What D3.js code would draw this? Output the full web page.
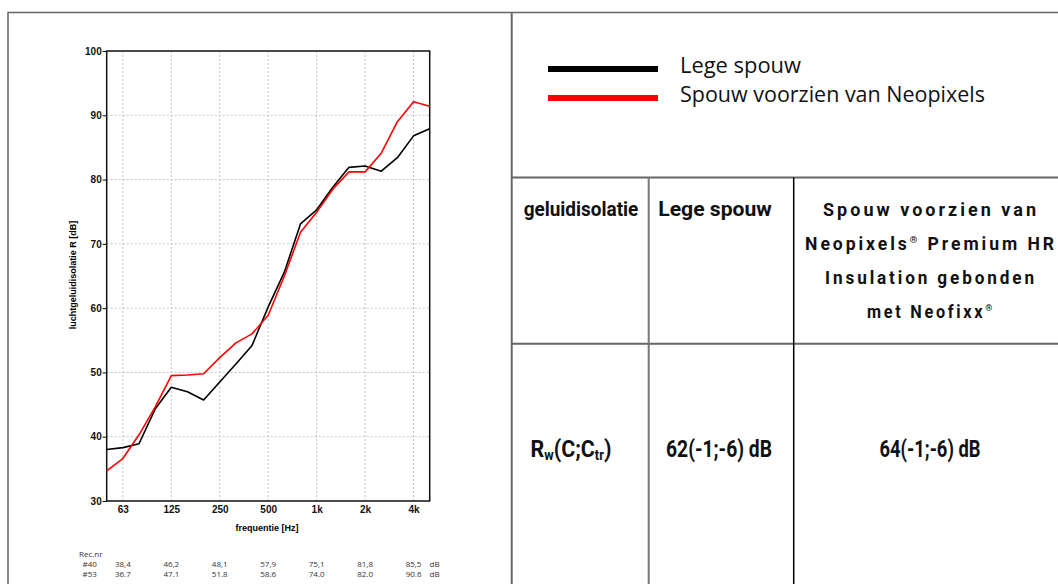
<!DOCTYPE html>
<html>
<head>
<meta charset="utf-8">
<script src="https://cdnjs.cloudflare.com/ajax/libs/d3/7.8.5/d3.min.js"></script>
<style>
  body { margin: 0; background: #fff; }
  svg { display: block; }
  .tick text { font-family: "Liberation Sans", Arial, sans-serif; font-weight: bold; font-size: 10px; fill: #111; }
  .cond { font-family: Roboto, "Liberation Sans", sans-serif; font-weight: bold; fill: #111; }
</style>
</head>
<body>
<svg id="chart" width="1058" height="584"></svg>
<script>
// third-octave bands, Hz
var bands = [50, 63, 80, 100, 125, 160, 200, 250, 315, 400, 500, 630, 800, 1000, 1250, 1600, 2000, 2500, 3150, 4000, 5000];
// R [dB]
var legeSpouw = [38.0, 38.3, 38.9, 44.3, 47.7, 47.0, 45.7, 48.5, 51.3, 54.2, 60.2, 65.6, 73.1, 75.3, 78.8, 81.9, 82.1, 81.3, 83.4, 86.8, 87.9];
var neopixels = [34.7, 36.6, 40.3, 44.6, 49.5, 49.6, 49.8, 52.3, 54.6, 56.0, 58.9, 65.0, 71.8, 74.9, 78.5, 81.2, 81.2, 84.1, 89.0, 92.1, 91.4];

var tickBands = [63, 125, 250, 500, 1000, 2000, 4000];
var tickLabels = ["63", "125", "250", "500", "1k", "2k", "4k"];
var yTicks = [30, 40, 50, 60, 70, 80, 90, 100];

var recIds = ["#40", "#53"];
var rec40 = ["38,4", "46,2", "48,1", "57,9", "75,1", "81,8", "85,5"];
var rec53 = ["36.7", "47.1", "51.8", "58.6", "74.0", "82.0", "90.6"];

var seriesNames = ["Lege spouw", "Spouw voorzien van Neopixels"];
var seriesColors = ["#000", "#ff0000"];

var headCol1 = "geluidisolatie";
var headCol2 = "Lege spouw";
var headCol3 = ["Spouw voorzien van", "Neopixels|® Premium HR", "Insulation gebonden", "met Neofixx|®"];
var rwCol2 = "62(-1;-6) dB";
var rwCol3 = "64(-1;-6) dB";

var svg = d3.select("#chart");

// frame + table lines
var frame = svg.append("g").attr("fill", "none");
frame.append("path").attr("d", "M8,584V12.5H1058").attr("stroke", "#666").attr("stroke-width", 1.5);
frame.append("path").attr("d", "M511.7,12.5V584").attr("stroke", "#666").attr("stroke-width", 2);
frame.append("path").attr("d", "M511.7,177.5H1058M511.7,343.7H1058").attr("stroke", "#666").attr("stroke-width", 2);
frame.append("path").attr("d", "M648.7,177.5V584").attr("stroke", "#777").attr("stroke-width", 2);
frame.append("path").attr("d", "M793.7,177.5V584").attr("stroke", "#000").attr("stroke-width", 1.5);

// chart
var x = d3.scalePoint().domain(bands).range([106.7, 429.7]);
var y = d3.scaleLinear().domain([30, 100]).range([501, 51]);

var grid = svg.append("g")
  .attr("stroke", "#c4c4c4")
  .attr("stroke-dasharray", "2,2")
  .attr("stroke-width", 1);
grid.selectAll("line.v")
  .data(tickBands)
  .enter()
  .append("line")
  .attr("x1", function(d) { return x(d); })
  .attr("x2", function(d) { return x(d); })
  .attr("y1", y(100))
  .attr("y2", y(30));
grid.selectAll("line.h")
  .data(yTicks.slice(1, -1))
  .enter()
  .append("line")
  .attr("x1", x(50))
  .attr("x2", x(5000))
  .attr("y1", function(d) { return y(d); })
  .attr("y2", function(d) { return y(d); });

var yAxis = svg.append("g")
  .attr("transform", "translate(" + x(50) + ",0)")
  .call(d3.axisLeft(y).tickValues(yTicks).tickSize(4).tickPadding(1));
yAxis.select(".domain").remove();

var xAxis = svg.append("g")
  .attr("transform", "translate(0," + y(30) + ")")
  .call(d3.axisBottom(x).tickValues(tickBands).tickSize(0).tickPadding(5)
    .tickFormat(function(d, i) { return tickLabels[i]; }));
xAxis.select(".domain").remove();

svg.append("rect")
  .attr("x", x(50))
  .attr("y", y(100))
  .attr("width", x(5000) - x(50))
  .attr("height", y(30) - y(100))
  .attr("fill", "none")
  .attr("stroke", "#111")
  .attr("stroke-width", 1.5);

var line = d3.line()
  .x(function(d, i) { return x(bands[i]); })
  .y(function(d) { return y(d); });

[legeSpouw, neopixels].forEach(function(s, i) {
  svg.append("path")
    .datum(s)
    .attr("d", line)
    .attr("fill", "none")
    .attr("stroke", seriesColors[i])
    .attr("stroke-width", 1.6)
    .attr("stroke-linejoin", "round");
});

svg.append("text")
  .attr("transform", "translate(76,275) rotate(-90)")
  .attr("text-anchor", "middle")
  .style("font", "bold 9px 'Liberation Sans', Arial, sans-serif")
  .text("luchtgeluidisolatie R [dB]");

svg.append("text")
  .attr("x", 267)
  .attr("y", 531)
  .attr("text-anchor", "middle")
  .style("font", "bold 9px 'Liberation Sans', Arial, sans-serif")
  .text("frequentie [Hz]");

// measurement numbers under the chart
var rec = svg.append("g").style("font", "8px 'Open Sans', sans-serif").attr("fill", "#333");
rec.append("text").attr("x", 79).attr("y", 556.5).text("Rec.nr");
[rec40, rec53].forEach(function(vals, r) {
  var yy = 566.5 + r * 10;
  rec.append("text").attr("x", 82.5).attr("y", yy).text(recIds[r]);
  rec.selectAll("text.v" + r)
    .data(vals)
    .enter()
    .append("text")
    .attr("x", function(d, i) { return x(tickBands[i]); })
    .attr("y", yy)
    .attr("text-anchor", "middle")
    .text(function(d) { return d; });
  rec.append("text").attr("x", 429.5).attr("y", yy).text("dB");
});

// legend
var legend = svg.append("g");
seriesNames.forEach(function(name, i) {
  legend.append("line")
    .attr("x1", 548).attr("x2", 658)
    .attr("y1", 69 + i * 29).attr("y2", 69 + i * 29)
    .attr("stroke", seriesColors[i])
    .attr("stroke-width", 6);
  legend.append("text")
    .attr("x", 680)
    .attr("y", 73 + i * 29)
    .style("font", "21px 'Open Sans', sans-serif")
    .attr("fill", "#111")
    .attr("textLength", i ? 305 : 121)
    .attr("lengthAdjust", "spacingAndGlyphs")
    .text(name);
});

// table: squeeze each cell text horizontally to get the condensed look
var table = svg.append("g");

function cell(cx, cy, size, width, spacing) {
  var g = table.append("g");
  var t = g.append("text").attr("class", "cond")
    .attr("text-anchor", "middle")
    .style("font-size", size + "px");
  if (spacing) t.style("letter-spacing", spacing + "px");
  t.fit = function() {
    var w = t.node().getBBox().width;
    g.attr("transform", "translate(" + cx + "," + cy + ") scale(" + (width / w) + ",1)");
    return t;
  };
  return t;
}

function addSup(t, str) {
  var parts = str.split("|");
  t.append("tspan").text(parts[0]);
  if (parts.length > 1) {
    t.append("tspan").attr("font-size", "55%").attr("dy", -7).text(parts[1].charAt(0));
    if (parts[1].length > 1) t.append("tspan").attr("dy", 7).text(parts[1].slice(1));
  }
}

cell(581, 216, 20, 115).text(headCol1).fit();
cell(715, 216, 20, 114).text(headCol2).fit();

var col3W = [216, 252, 212, 128];
headCol3.forEach(function(s, i) {
  var t = cell(931, 216 + i * 34, 18, col3W[i], 3);
  addSup(t, s);
  t.fit();
});

var rw = cell(571, 457, 23, 81);
rw.append("tspan").text("R");
rw.append("tspan").attr("font-size", "60%").attr("dy", 3).text("w");
rw.append("tspan").attr("dy", -3).text("(C;C");
rw.append("tspan").attr("font-size", "60%").attr("dy", 3).text("tr");
rw.append("tspan").attr("dy", -3).text(")");
rw.fit();

cell(719, 457, 23, 106).text(rwCol2).fit();
cell(930, 457, 23, 101).text(rwCol3).fit();
</script>
</body>
</html>
